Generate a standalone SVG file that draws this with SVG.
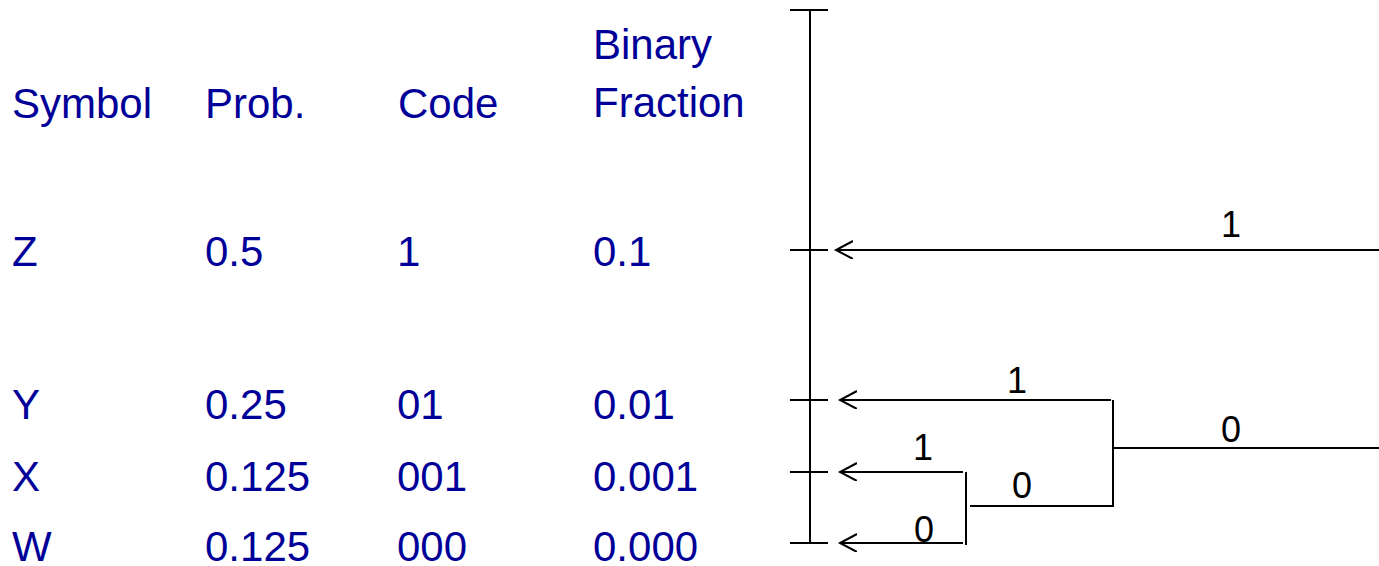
<svg xmlns="http://www.w3.org/2000/svg" width="1379" height="566" viewBox="0 0 1379 566">
  <style>
    .t { font-family: "Liberation Sans", Arial, sans-serif; font-size: 42px; fill: #000099; }
    .lb { font-family: "Liberation Sans", Arial, sans-serif; font-size: 36px; fill: #000000; text-anchor: middle; }
    .ln { stroke: #000000; stroke-width: 2; fill: none; }
  </style>
  <defs>
    <marker id="arr" viewBox="0 0 20 20" markerWidth="20" markerHeight="20" refX="17" refY="9" markerUnits="userSpaceOnUse" orient="auto-start-reverse">
      <path d="M0,0 L17,9 L0,18" fill="none" stroke="#000000" stroke-width="2"/>
    </marker>
  </defs>
  <rect width="1379" height="566" fill="#ffffff"/>

  <g id="table">
    <text class="t" x="12" y="118">Symbol</text>
    <text class="t" x="205" y="118">Prob.</text>
    <text class="t" x="398" y="118">Code</text>
    <text class="t" x="593" y="59">Binary</text>
    <text class="t" x="593" y="117">Fraction</text>

    <text class="t" x="12" y="266">Z</text>
    <text class="t" x="205" y="266">0.5</text>
    <text class="t" x="397" y="266">1</text>
    <text class="t" x="593" y="266">0.1</text>

    <text class="t" x="12" y="419">Y</text>
    <text class="t" x="205" y="419">0.25</text>
    <text class="t" x="397" y="419">01</text>
    <text class="t" x="593" y="419">0.01</text>

    <text class="t" x="12" y="491">X</text>
    <text class="t" x="205" y="491">0.125</text>
    <text class="t" x="397" y="491">001</text>
    <text class="t" x="593" y="491">0.001</text>

    <text class="t" x="12" y="561">W</text>
    <text class="t" x="205" y="561">0.125</text>
    <text class="t" x="397" y="561">000</text>
    <text class="t" x="593" y="561">0.000</text>
  </g>

  <g id="axis">
    <line class="ln" x1="810" y1="10" x2="810" y2="544"/>
    <line class="ln" x1="790" y1="10" x2="828" y2="10"/>
    <line class="ln" x1="790" y1="250" x2="828" y2="250"/>
    <line class="ln" x1="790" y1="400" x2="828" y2="400"/>
    <line class="ln" x1="790" y1="472" x2="828" y2="472"/>
    <line class="ln" x1="790" y1="543" x2="828" y2="543"/>
  </g>

  <g id="connectors">
    <line class="ln" x1="836" y1="250" x2="1379" y2="250" marker-start="url(#arr)"/>
    <line class="ln" x1="840" y1="400" x2="1111" y2="400" marker-start="url(#arr)"/>
    <line class="ln" x1="840" y1="472" x2="963" y2="472" marker-start="url(#arr)"/>
    <line class="ln" x1="840" y1="543" x2="963" y2="543" marker-start="url(#arr)"/>
    <line class="ln" x1="1113" y1="400" x2="1113" y2="507"/>
    <line class="ln" x1="1113" y1="448" x2="1379" y2="448"/>
    <line class="ln" x1="966" y1="472" x2="966" y2="545"/>
    <line class="ln" x1="970" y1="506" x2="1113" y2="506"/>
  </g>

  <g id="labels">
    <text class="lb" x="1231" y="237">1</text>
    <text class="lb" x="1017" y="393">1</text>
    <text class="lb" x="1231" y="442">0</text>
    <text class="lb" x="923" y="460">1</text>
    <text class="lb" x="1022" y="498">0</text>
    <text class="lb" x="924" y="542">0</text>
  </g>
</svg>
